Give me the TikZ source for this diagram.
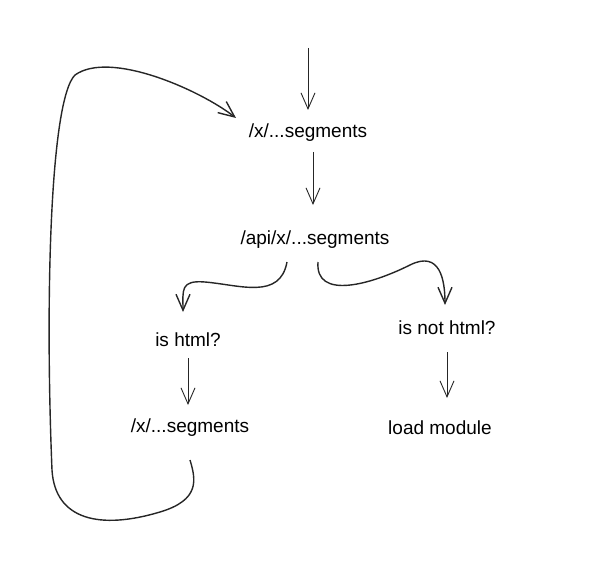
\documentclass[tikz,border=0pt]{standalone}
\usepackage{fontspec}
\setmainfont{Liberation Sans}
\usetikzlibrary{arrows.meta}
\begin{document}
\begin{tikzpicture}[x=1pt,y=-1pt,
  lbl/.style={font=\fontsize{19}{22}\selectfont, inner sep=1pt},
  arr/.style={draw=black!85, line width=0.9pt, -{Straight Barb[length=16pt,width=14pt]}},
  thick arr/.style={arr, line width=1.4pt}]
\useasboundingbox (0,0) rectangle (600,575);
\node[lbl] (a) at (308,133) {/x/...segments};
\node[lbl] (b) at (315,240) {/api/x/...segments};
\node[lbl] (c) at (188,340) {is html?};
\node[lbl] (d) at (447,328) {is not html?};
\node[lbl] (e) at (190,428) {/x/...segments};
\node[lbl] (f) at (440,428) {load module};
\coordinate (top) at (308,48);
\coordinate (loopend) at (236,118);
\draw[arr] (top) -- (308,110);
\draw[arr] (313,152) -- (313,205);
\draw[thick arr] (287,262) .. controls (280,300) and (240,285) .. (205,282) .. controls (180,280) and (183,290) .. (183,312);
\draw[thick arr] (318,262) .. controls (315,300) and (370,285) .. (410,265) .. controls (440,250) and (445,280) .. (445,305);
\draw[arr] (188,358) -- (188,405);
\draw[arr] (447,352) -- (447,398);
\draw[thick arr] (190,460) .. controls (196,480) and (200,500) .. (160,512) .. controls (100,530) and (55,520) .. (52,470) .. controls (45,300) and (50,100) .. (75,75) .. controls (110,50) and (200,90) .. (loopend);
\end{tikzpicture}
\end{document}
